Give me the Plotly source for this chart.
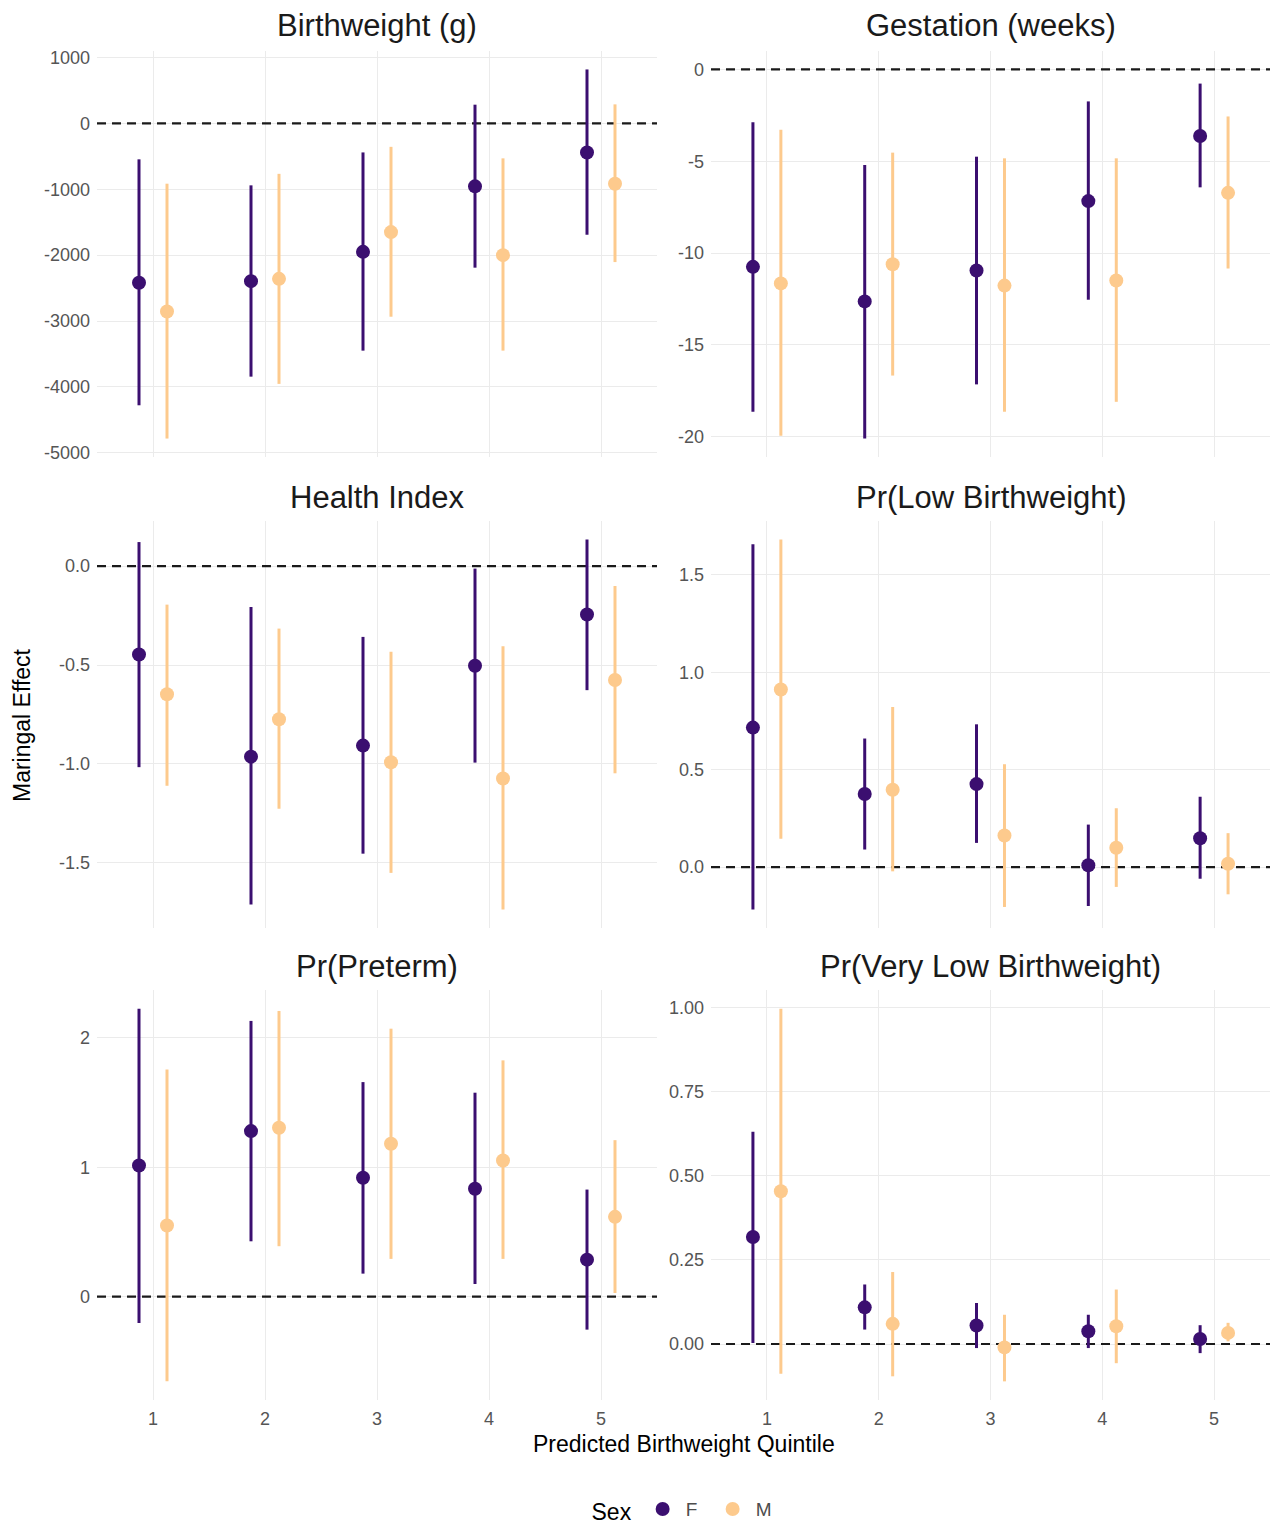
import plotly.graph_objects as go

# ---------------- data ----------------
quintiles = [1, 2, 3, 4, 5]
sexes = ["F", "M"]
panel_titles = ["Birthweight (g)", "Gestation (weeks)", "Health Index",
                "Pr(Low Birthweight)", "Pr(Preterm)", "Pr(Very Low Birthweight)"]

bw_F = [-2420, -2395, -1950, -955, -440]
bw_F_lo = [-4280, -3845, -3450, -2190, -1690]
bw_F_hi = [-545, -940, -440, 285, 820]
bw_M = [-2855, -2360, -1650, -2000, -915]
bw_M_lo = [-4785, -3955, -2935, -3450, -2105]
bw_M_hi = [-915, -765, -355, -530, 290]

gest_F = [-10.75, -12.63, -10.95, -7.17, -3.62]
gest_F_lo = [-18.64, -20.1, -17.15, -12.54, -6.42]
gest_F_hi = [-2.87, -5.2, -4.75, -1.74, -0.77]
gest_M = [-11.65, -10.61, -11.77, -11.49, -6.72]
gest_M_lo = [-19.95, -16.67, -18.64, -18.1, -10.84]
gest_M_hi = [-3.28, -4.53, -4.84, -4.84, -2.56]

hi_F = [-0.447, -0.963, -0.907, -0.504, -0.245]
hi_F_lo = [-1.016, -1.71, -1.453, -0.993, -0.627]
hi_F_hi = [0.121, -0.207, -0.358, -0.013, 0.134]
hi_M = [-0.648, -0.774, -0.991, -1.073, -0.576]
hi_M_lo = [-1.11, -1.226, -1.55, -1.735, -1.047]
hi_M_hi = [-0.195, -0.316, -0.433, -0.405, -0.101]

lbw_F = [0.716, 0.375, 0.426, 0.009, 0.148]
lbw_F_lo = [-0.218, 0.09, 0.124, -0.2, -0.06]
lbw_F_hi = [1.658, 0.66, 0.733, 0.218, 0.361]
lbw_M = [0.912, 0.397, 0.162, 0.099, 0.017]
lbw_M_lo = [0.145, -0.022, -0.205, -0.102, -0.14]
lbw_M_hi = [1.682, 0.822, 0.528, 0.302, 0.174]

pre_F = [1.014, 1.28, 0.919, 0.834, 0.286]
pre_F_lo = [-0.204, 0.428, 0.178, 0.098, -0.255]
pre_F_hi = [2.227, 2.132, 1.659, 1.577, 0.828]
pre_M = [0.55, 1.306, 1.182, 1.053, 0.617]
pre_M_lo = [-0.655, 0.39, 0.292, 0.292, 0.028]
pre_M_hi = [1.757, 2.209, 2.072, 1.827, 1.21]

vlbw_F = [0.318, 0.109, 0.055, 0.038, 0.015]
vlbw_F_lo = [0.003, 0.043, -0.012, -0.012, -0.027]
vlbw_F_hi = [0.631, 0.177, 0.122, 0.087, 0.056]
vlbw_M = [0.454, 0.06, -0.01, 0.053, 0.033]
vlbw_M_lo = [-0.088, -0.096, -0.111, -0.057, 0.008]
vlbw_M_hi = [0.997, 0.214, 0.087, 0.162, 0.063]

bw_ticks = [1000, 0, -1000, -2000, -3000, -4000, -5000]
bw_ticktext = ["1000", "0", "-1000", "-2000", "-3000", "-4000", "-5000"]
gest_ticks = [0, -5, -10, -15, -20]
gest_ticktext = ["0", "-5", "-10", "-15", "-20"]
hi_ticks = [0.0, -0.5, -1.0, -1.5]
hi_ticktext = ["0.0", "-0.5", "-1.0", "-1.5"]
lbw_ticks = [0.0, 0.5, 1.0, 1.5]
lbw_ticktext = ["0.0", "0.5", "1.0", "1.5"]
pre_ticks = [0, 1, 2]
pre_ticktext = ["0", "1", "2"]
vlbw_ticks = [0.0, 0.25, 0.5, 0.75, 1.0]
vlbw_ticktext = ["0.00", "0.25", "0.50", "0.75", "1.00"]
x_ticktext = ["1", "2", "3", "4", "5"]
ref_line = 0

# ---------------- styling ----------------
W, H = 1272, 1524
FONT = "Liberation Sans, Arial, Helvetica, sans-serif"
colors = {"F": "#3B0F70", "M": "#FDCA8D"}
dodge = {"F": -0.125, "M": 0.125}
grid = "#EBEBEB"
tick_col = "#555555"
x_range = [0.5, 5.5]

panels = [
    (bw_F, bw_F_lo, bw_F_hi, bw_M, bw_M_lo, bw_M_hi, bw_ticks, bw_ticktext),
    (gest_F, gest_F_lo, gest_F_hi, gest_M, gest_M_lo, gest_M_hi, gest_ticks, gest_ticktext),
    (hi_F, hi_F_lo, hi_F_hi, hi_M, hi_M_lo, hi_M_hi, hi_ticks, hi_ticktext),
    (lbw_F, lbw_F_lo, lbw_F_hi, lbw_M, lbw_M_lo, lbw_M_hi, lbw_ticks, lbw_ticktext),
    (pre_F, pre_F_lo, pre_F_hi, pre_M, pre_M_lo, pre_M_hi, pre_ticks, pre_ticktext),
    (vlbw_F, vlbw_F_lo, vlbw_F_hi, vlbw_M, vlbw_M_lo, vlbw_M_hi, vlbw_ticks, vlbw_ticktext),
]

# panel pixel extents
col_px = [(97, 657), (711, 1270)]
row_px = [(51, 457), (521, 928), (990, 1400)]
title_y_px = [25, 497, 967]

fig = go.Figure()
layout = {}
annotations = []

for i, (fe, flo, fhi, me, mlo, mhi, yt, ytt) in enumerate(panels):
    r, c = divmod(i, 2)
    n = i + 1
    xa = "x" if n == 1 else f"x{n}"
    ya = "y" if n == 1 else f"y{n}"
    # dashed reference line at zero
    fig.add_trace(go.Scatter(x=x_range, y=[ref_line, ref_line], mode="lines",
                             line=dict(color="#1a1a1a", width=2.2, dash="9px,6px"),
                             showlegend=False, hoverinfo="skip", xaxis=xa, yaxis=ya))
    series = {"F": (fe, flo, fhi), "M": (me, mlo, mhi)}
    for s in sexes:
        est, lo, hi = series[s]
        fig.add_trace(go.Scatter(
            x=[q + dodge[s] for q in quintiles], y=est,
            mode="markers",
            marker=dict(color=colors[s], size=14),
            error_y=dict(type="data", symmetric=False,
                         array=[h - e for h, e in zip(hi, est)],
                         arrayminus=[e - l for e, l in zip(est, lo)],
                         color=colors[s], thickness=3, width=0),
            name=s, legendgroup=s, showlegend=(i == 0),
            xaxis=xa, yaxis=ya, hoverinfo="skip"))
    allv = flo + fhi + mlo + mhi + [ref_line]
    lo_v, hi_v = min(allv), max(allv)
    pad = (hi_v - lo_v) * 0.05
    x0, x1 = col_px[c]
    y0, y1 = row_px[r]
    layout["xaxis" if n == 1 else f"xaxis{n}"] = dict(
        domain=[x0 / W, x1 / W], range=x_range, anchor=ya,
        tickvals=quintiles, ticktext=x_ticktext, showticklabels=(r == 2),
        showgrid=True, gridcolor=grid, gridwidth=1.2, zeroline=False, showline=False,
        ticks="", ticklabelstandoff=6,
        tickfont=dict(family=FONT, size=18, color=tick_col), fixedrange=True)
    layout["yaxis" if n == 1 else f"yaxis{n}"] = dict(
        domain=[1 - y1 / H, 1 - y0 / H], range=[lo_v - pad, hi_v + pad], anchor=xa,
        tickvals=yt, ticktext=ytt, showgrid=True, gridcolor=grid, gridwidth=1.2,
        zeroline=False, showline=False, ticks="", ticklabelstandoff=6,
        tickfont=dict(family=FONT, size=18, color=tick_col), fixedrange=True)
    annotations.append(dict(text=panel_titles[i], xref="paper", yref="paper",
                            x=(x0 + x1) / 2 / W, y=1 - title_y_px[r] / H,
                            xanchor="center", yanchor="middle", showarrow=False,
                            font=dict(family=FONT, size=31, color="#1a1a1a")))

annotations.append(dict(text="Predicted Birthweight Quintile", xref="paper", yref="paper",
                        x=684 / W, y=1 - 1444 / H, xanchor="center", yanchor="middle",
                        showarrow=False, font=dict(family=FONT, size=23, color="#000000")))
annotations.append(dict(text="Maringal Effect", xref="paper", yref="paper",
                        x=22 / W, y=1 - 725 / H, xanchor="center", yanchor="middle",
                        textangle=-90, showarrow=False,
                        font=dict(family=FONT, size=23, color="#000000")))

fig.update_layout(
    **layout,
    width=W, height=H,
    margin=dict(l=0, r=0, t=0, b=0, autoexpand=False),
    paper_bgcolor="white", plot_bgcolor="white",
    font=dict(family=FONT),
    annotations=annotations,
    showlegend=True,
    legend=dict(orientation="h", x=685 / W, xanchor="center", y=-0.004, yanchor="bottom",
                title=dict(text="Sex", font=dict(family=FONT, size=23, color="#000000")),
                font=dict(family=FONT, size=19, color="#4D4D4D"),
                itemwidth=36, entrywidth=19, entrywidthmode="pixels",
                tracegroupgap=0, bgcolor="rgba(0,0,0,0)"),
)

fig.write_html("out.html", config={"displayModeBar": False},
               post_script="document.body.style.margin='0';document.body.style.padding='0';")
